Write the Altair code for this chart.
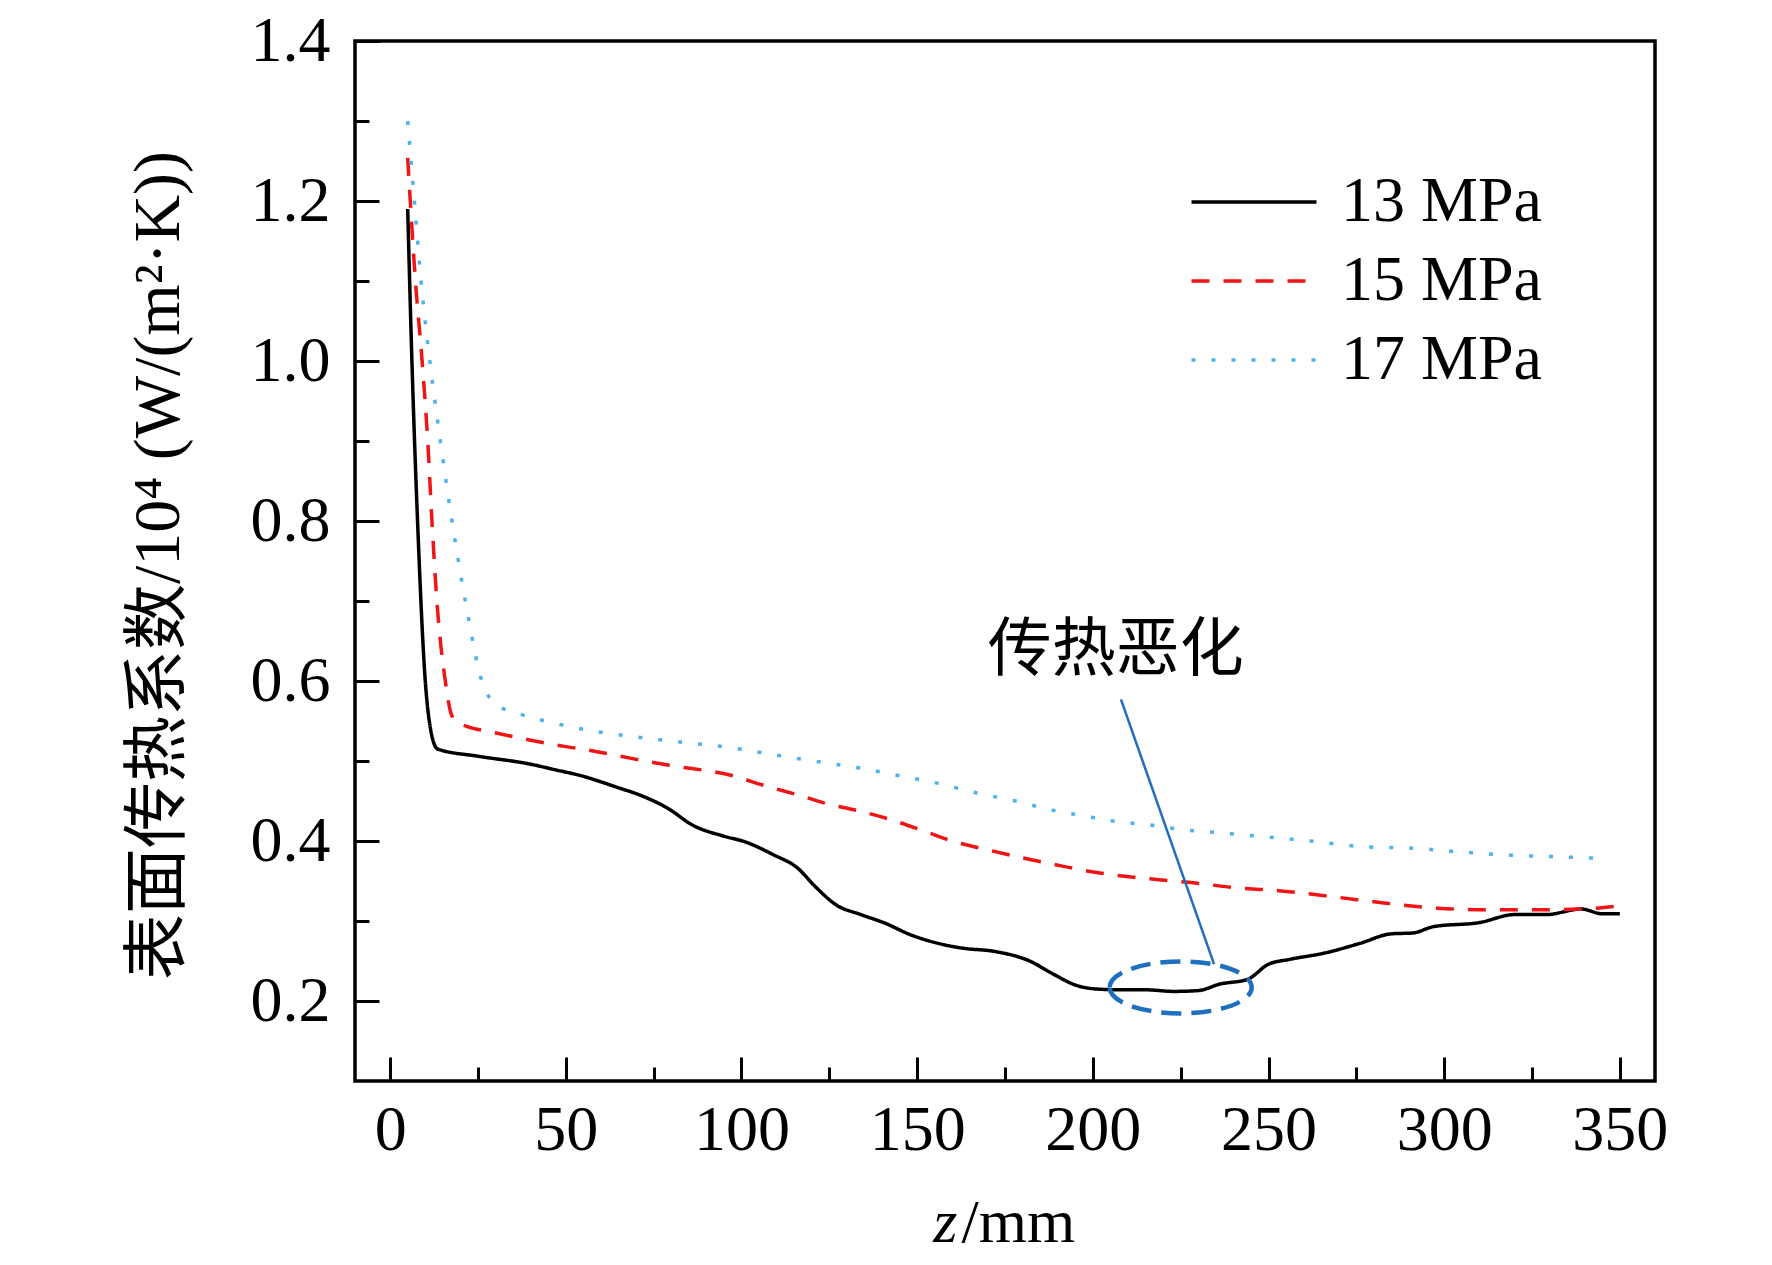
import altair as alt
import pandas as pd

# ---- data ----
z13 = [5, 6.2, 7.8, 10, 11.5, 13.5, 25, 40, 47, 54, 64, 73, 79, 86, 95, 101, 109, 116, 121, 127,
       134, 141, 148, 156, 163, 172, 182, 189, 195, 201, 208, 215, 223, 230, 236, 244, 250, 256,
       266, 276, 285, 291, 297, 310, 320, 329, 339, 345, 350]
h13 = [1.19, 1.0, 0.8, 0.6, 0.54, 0.515, 0.506, 0.496, 0.489, 0.482, 0.468, 0.454, 0.441, 0.42,
       0.406, 0.399, 0.383, 0.366, 0.343, 0.32, 0.308, 0.297, 0.283, 0.272, 0.266, 0.262, 0.25,
       0.233, 0.22, 0.215, 0.214, 0.214, 0.212, 0.213, 0.221, 0.227, 0.246, 0.252, 0.26, 0.272,
       0.284, 0.285, 0.293, 0.298, 0.308, 0.308, 0.315, 0.309, 0.309]

z15 = [5, 7.2, 9.1, 10.7, 11.9, 13.3, 15.7, 17, 18.5, 22, 28, 40, 50, 58.5, 69, 79, 98, 106,
       116.5, 124, 134, 143, 151, 160, 170, 180, 192, 202, 211, 218, 228, 240, 255, 269, 284,
       298, 313, 327, 340, 350]
h15 = [1.254, 1.1, 1.0, 0.9, 0.8, 0.7, 0.6, 0.565, 0.55, 0.543, 0.537, 0.526, 0.518, 0.512,
       0.503, 0.495, 0.481, 0.47, 0.457, 0.447, 0.437, 0.426, 0.414, 0.4, 0.389, 0.379, 0.368,
       0.36, 0.355, 0.352, 0.348, 0.342, 0.337, 0.33, 0.322, 0.316, 0.314, 0.314, 0.315, 0.319]

z17 = [5, 6.9, 8.8, 11.3, 14.3, 17.6, 21.4, 26.1, 30.4, 36, 47, 58.5, 70, 82, 98, 109, 122, 134,
       145.5, 156, 167, 177, 189, 198, 204, 218, 224, 237, 247, 262, 276.5, 291, 305.5, 320,
       334.5, 346]
h17 = [1.30, 1.2, 1.1, 1.0, 0.9, 0.8, 0.7, 0.6, 0.57, 0.56, 0.547, 0.537, 0.53, 0.524, 0.516,
       0.508, 0.499, 0.491, 0.481, 0.472, 0.46, 0.451, 0.438, 0.431, 0.426, 0.419, 0.415, 0.41,
       0.406, 0.4, 0.393, 0.391, 0.386, 0.382, 0.38, 0.378]

series = ["13 MPa", "15 MPa", "17 MPa"]
colors = ["#000000", "#f01414", "#4fb2ea"]
dashes = [[1, 0], [18, 14], [4, 16]]

x_major = [0, 50, 100, 150, 200, 250, 300, 350]
x_minor = [25, 75, 125, 175, 225, 275, 325]
y_major = [0.2, 0.4, 0.6, 0.8, 1.0, 1.2, 1.4]
y_minor = [0.3, 0.5, 0.7, 0.9, 1.1, 1.3]

note_text = ["传热恶化"]
note_x = [206.5]
note_y = [0.637]
ptr_x = [208]
ptr_y = [0.577]
ptr_x2 = [234.5]
ptr_y2 = [0.246]
ell_x = [225]
ell_y = [0.217]

x_title_a = "z"
x_title_b = "/mm"
y_title = "表面传热系数/10⁴ (W/(m²·K))"

# ---- build tables ----
rows = []
for name, zs, hs in zip(series, [z13, z15, z17], [h13, h15, h17]):
    for z, h in zip(zs, hs):
        rows.append({"z": z, "h": h, "p": name})
df = pd.DataFrame(rows)
note_df = pd.DataFrame({"x": note_x, "y": note_y, "t": note_text})
ptr_df = pd.DataFrame({"x": ptr_x, "y": ptr_y, "x2": ptr_x2, "y2": ptr_y2})
ell_df = pd.DataFrame({"x": ell_x, "y": ell_y})

W, H = 1300, 1040
SERIF = "Liberation Serif"
MIX = "Liberation Serif, Noto Sans CJK SC"
MAJ, MIN = 24, 14
ANN = "#1f6fbf"
TY = 160

xs = alt.Scale(domain=[-10, 360], nice=False, zero=False)
ys = alt.Scale(domain=[0.1, 1.4], nice=False, zero=False)

legend = alt.Legend(
    title=None, orient="none", legendX=866, legendY=128, padding=0,
    symbolType="M-2,0L2,0", symbolSize=3906, symbolStrokeWidth=3.5,
    labelFont=SERIF, labelFontSize=64, labelColor="black", labelOffset=54,
    rowPadding=14, labelLimit=0,
)

lines = alt.Chart(df).mark_line(strokeWidth=3.5, interpolate="monotone", strokeCap="butt").encode(
    x=alt.X("z:Q", scale=xs, axis=alt.Axis(
        values=x_major, ticks=False, tickSize=0, domain=False, grid=False,
        labelFont=SERIF, labelFontSize=64, labelColor="black", labelPadding=17,
        title=x_title_b, titleFont=SERIF, titleFontSize=62, titleFontWeight="normal",
        titleColor="black", titleX=606, titleY=TY, titleAlign="left",
        titleBaseline="alphabetic", titleAngle=0)),
    y=alt.Y("h:Q", scale=ys, axis=alt.Axis(
        values=y_major, format=".1f", ticks=False, tickSize=0, domain=False, grid=False,
        labelFont=SERIF, labelFontSize=64, labelColor="black", labelPadding=25,
        title=y_title, titleFont=MIX, titleFontSize=66, titleFontWeight="normal",
        titleColor="black", titleX=-197, titleY=H / 2 + 4, titleAngle=270,
        titleAlign="center", titleBaseline="middle")),
    color=alt.Color("p:N", scale=alt.Scale(domain=series, range=colors), legend=legend),
    strokeDash=alt.StrokeDash("p:N", scale=alt.Scale(domain=series, range=dashes), legend=legend),
)

pointer = alt.Chart(ptr_df).mark_rule(color=ANN, strokeWidth=2.5).encode(
    x=alt.X("x:Q", scale=xs, axis=alt.Axis(
        values=x_major, orient="bottom", offset=-MAJ, tickSize=MAJ, tickWidth=3,
        tickColor="black", labels=False, domain=False, grid=False,
        title=x_title_a, titleFont=SERIF, titleFontSize=62, titleFontWeight="normal",
        titleFontStyle="italic", titleColor="black", titleX=602, titleY=TY + MAJ,
        titleAlign="right", titleBaseline="alphabetic", titleAngle=0)),
    y=alt.Y("y:Q", scale=ys, axis=alt.Axis(
        values=y_major, orient="left", offset=-MAJ, tickSize=MAJ, tickWidth=3,
        tickColor="black", labels=False, domain=False, grid=False, title=None)),
    x2="x2:Q",
    y2="y2:Q",
)

ellipse_path = ("M -1 0 C -1 -0.202 -0.552 -0.366 0 -0.366 C 0.552 -0.366 1 -0.202 1 0 "
                "C 1 0.202 0.552 0.366 0 0.366 C -0.552 0.366 -1 0.202 -1 0 Z")
ellipse = alt.Chart(ell_df).mark_point(
    shape=ellipse_path, size=20164, filled=False, stroke=ANN, strokeWidth=4.5,
    strokeDash=[20, 10], opacity=1,
).encode(
    x=alt.X("x:Q", scale=xs, axis=alt.Axis(
        values=x_minor, orient="bottom", offset=-MIN, tickSize=MIN, tickWidth=3,
        tickColor="black", labels=False, domain=False, grid=False, title=None)),
    y=alt.Y("y:Q", scale=ys, axis=alt.Axis(
        values=y_minor, orient="left", offset=-MIN, tickSize=MIN, tickWidth=3,
        tickColor="black", labels=False, domain=False, grid=False, title=None)),
)

note = alt.Chart(note_df).mark_text(
    font="Noto Sans CJK SC", fontSize=64, color="black", align="center", baseline="middle",
).encode(
    x=alt.X("x:Q", scale=xs, axis=None),
    y=alt.Y("y:Q", scale=ys, axis=None),
    text="t:N",
)

chart = alt.layer(lines, pointer, ellipse, note).resolve_axis(
    x="independent", y="independent"
).properties(
    width=W, height=H,
    autosize=alt.AutoSizeParams(type="none"),
    padding={"left": 347, "top": 33, "right": 100, "bottom": 176},
    background="white",
).configure_view(stroke="black", strokeWidth=3.5)

chart.save("out.html", embed_options={"renderer": "svg", "actions": False})
